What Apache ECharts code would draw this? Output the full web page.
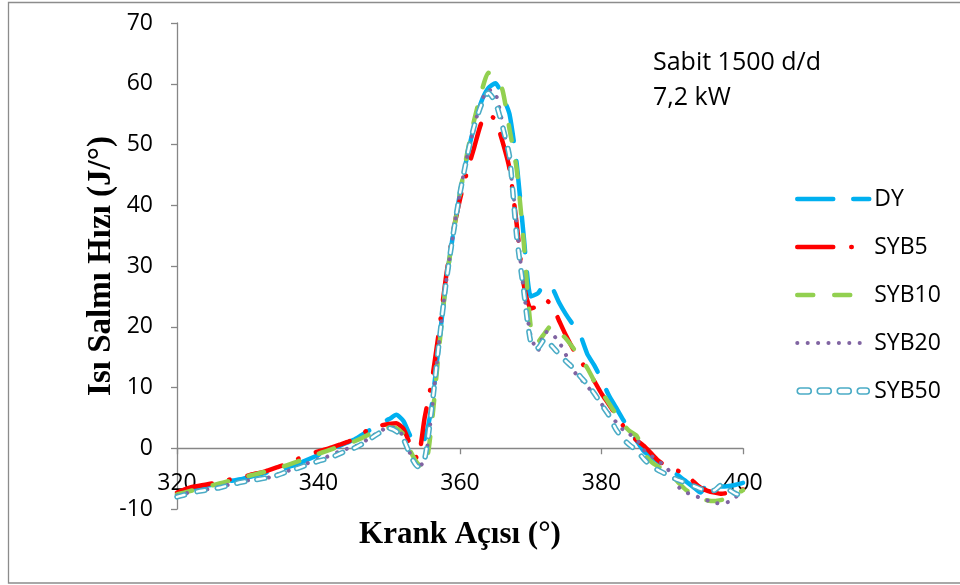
<!DOCTYPE html>
<html>
<head>
<meta charset="utf-8">
<script src="https://cdn.jsdelivr.net/npm/echarts@6/dist/echarts.min.js"></script>
<style>
html,body{margin:0;padding:0;background:#fff;}
#chart{width:960px;height:585px;}
</style>
</head>
<body>
<div id="chart"></div>
<script>
const crankAngle = [320,321,322,323,324,325,326,327,328,329,330,331,332,333,334,335,336,337,338,339,340,341,342,343,344,345,346,347,348,349,350,351,352,353,354,355,356,357,358,359,360,361,362,363,364,365,366,367,368,369,370,371,372,373,374,375,376,377,378,379,380,381,382,383,384,385,386,387,388,389,390,391,392,393,394,395,396,397,398,399,400];

const dy = [-7.5,-7.2,-6.8,-6.5,-6.2,-6.0,-5.8,-5.5,-5.3,-5.1,-4.8,-4.5,-4.2,-3.9,-3.7,-3.4,-3.0,-2.6,-2.1,-1.6,-1.1,-0.6,-0.1,0.4,0.9,1.4,2.1,2.8,3.6,4.3,4.8,5.5,4.5,2.0,0.8,1.5,7.0,17,27,35,42,48,53,57,59.3,60.1,58,55,47,35,25,25.5,27,26.4,24,22,20.3,18.6,15.5,13.6,11.3,8.8,6.8,4.8,3.0,1.2,-0.5,-1.4,-2.2,-3.0,-3.8,-4.6,-5.5,-6.4,-7.3,-5.8,-6.0,-6.3,-6.2,-6.0,-5.7];

const syb5 = [-7.3,-6.8,-6.4,-6.2,-6.0,-5.8,-5.6,-5.3,-5.0,-4.8,-4.5,-4.2,-4.0,-3.6,-3.2,-2.8,-2.3,-1.8,-1.3,-0.9,-0.5,-0.2,0.2,0.6,1.0,1.5,2.3,3.0,3.5,3.8,4.0,4.1,3.2,0.5,-1.8,5.0,11,19,28,35.5,41,45.5,49.5,53.5,55,54,50.5,46,37,27,23,23.4,24.5,23.5,21,18.5,16.3,14.5,12.7,11,9,7.3,5.5,3.8,2.2,1.3,0.4,-0.8,-2.0,-2.8,-3.3,-3.8,-4.2,-5.5,-6.5,-7.0,-7.3,-7.5,-7.3,-7.0,-6.8];

const syb10 = [-7.6,-7.3,-7.0,-6.7,-6.4,-6.1,-5.8,-5.5,-5.2,-4.9,-4.6,-4.3,-4.0,-3.7,-3.4,-3.0,-2.6,-2.2,-1.8,-1.3,-0.9,-0.5,-0.1,0.3,0.7,1.1,1.6,2.2,2.8,3.2,3.4,3.3,2.3,-0.5,-2.5,-3.2,4,16,27,35,42,48.5,54,58.5,61.8,61,59,52.5,46,34,20,17.5,19,20.3,19.2,18,16.5,14.8,13.2,11,9.3,7.5,5.7,4.0,2.8,2.0,-0.8,-2.2,-3.0,-3.6,-4.5,-5.8,-6.9,-7.6,-8.2,-8.6,-8.7,-8.5,-8.2,-7.6,-6.9];

const syb20 = [-7.8,-7.5,-7.2,-7.0,-6.8,-6.6,-6.4,-6.1,-5.8,-5.5,-5.3,-5.1,-5.0,-4.8,-4.4,-4.0,-3.6,-3.2,-2.7,-2.2,-1.8,-1.5,-1.0,-0.5,-0.1,0.2,0.8,1.5,2.3,3.0,3.5,3.2,2.0,-1.0,-3.0,-2.2,6,17,27,35,42,48,53,57,59,58.5,53.5,47,37,26,18.5,16,19.2,18.8,17.5,15.3,12.8,11.5,10.2,8.8,7.3,5.8,4.4,3.1,2.3,1.4,-0.3,-1.2,-2.1,-2.9,-4.5,-6.5,-7.3,-7.7,-8.2,-8.6,-9.0,-9.1,-8.8,-8.0,-7.3];

const syb50 = [-8.0,-7.7,-7.4,-7.1,-6.9,-6.7,-6.5,-6.2,-5.9,-5.6,-5.4,-5.2,-5.0,-4.8,-4.5,-4.1,-3.7,-3.3,-2.9,-2.5,-2.1,-1.8,-1.4,-0.9,-0.4,0.0,0.6,1.3,2.1,2.8,3.3,2.8,1.5,-1.2,-3.0,-1.8,6.5,17,27,35,42,48,53,56.5,58.5,57,53,48,35,26,17.5,16.5,18,16.8,15.5,14.3,13.2,11.8,10.5,9,7.2,5.5,3.2,1.6,0.5,-0.4,-1.8,-2.9,-3.6,-4.2,-4.8,-5.3,-5.7,-6.2,-6.7,-7.0,-6.9,-6.0,-6.8,-7.5,-7.8];

const seriesNames = ['DY','SYB5','SYB10','SYB20','SYB50'];
const xTicks = [320,340,360,380,400];
const yTicks = [-10,0,10,20,30,40,50,60,70];

function pairs(vals){ return crankAngle.map((x,i)=>[x, vals[i]]); }

const lblFont = '"Open Sans", "Noto Sans", sans-serif';
const titleFont = '"Liberation Serif", "DejaVu Serif", serif';
const axisGray = '#868686';

const chart = echarts.init(document.getElementById('chart'), null, {renderer:'canvas'});

const pillPath = 'path://M3,0 H11 A3,3 0 0 1 11,6 H3 A3,3 0 0 1 3,0 Z M23,0 H31 A3,3 0 0 1 31,6 H23 A3,3 0 0 1 23,0 Z M43,0 H51 A3,3 0 0 1 51,6 H43 A3,3 0 0 1 43,0 Z M63,0 H69 A3,3 0 0 1 69,6 H63 A3,3 0 0 1 63,0 Z';

const option = {
  animation: false,
  backgroundColor: '#ffffff',
  grid: { left: 177, right: 217, top: 23, bottom: 76, containLabel: false, outerBoundsMode: 'none' },
  xAxis: {
    type: 'value',
    min: xTicks[0], max: xTicks[xTicks.length-1], interval: 20,
    name: 'Krank Açısı (°)',
    nameLocation: 'middle',
    nameGap: 10,
    nameMoveOverlap: false,
    nameTextStyle: { fontFamily: titleFont, fontWeight: 'bold', fontSize: 31, color: '#000' },
    axisLine: { onZero: true, lineStyle: { color: axisGray, width: 1.3 } },
    axisTick: { show: true, length: 6, lineStyle: { color: axisGray, width: 1.3 } },
    axisLabel: { fontFamily: lblFont, fontSize: 23, color: '#000', margin: -37 },
    splitLine: { show: false }
  },
  yAxis: {
    type: 'value',
    min: yTicks[0], max: yTicks[yTicks.length-1], interval: 10,
    name: 'Isı Salmı Hızı (J/°)',
    nameLocation: 'middle',
    nameGap: 59,
    nameMoveOverlap: false,
    nameRotate: 90,
    nameTextStyle: { fontFamily: titleFont, fontWeight: 'bold', fontSize: 33, color: '#000' },
    axisLine: { show: true, onZero: false, lineStyle: { color: axisGray, width: 1.3 } },
    axisTick: { show: true, length: 6, lineStyle: { color: axisGray, width: 1.3 } },
    axisLabel: { fontFamily: lblFont, fontSize: 23, color: '#000', margin: 24 },
    splitLine: { show: false }
  },
  legend: {
    orient: 'vertical',
    left: 790,
    top: 182,
    itemWidth: 72,
    itemHeight: 6,
    itemGap: 24,
    itemStyle: { opacity: 0 },
    textStyle: { fontFamily: lblFont, fontSize: 23, color: '#000', lineHeight: 24 },
    data: [
      { name: 'DY', lineStyle: { width: 4.5 } },
      { name: 'SYB5', lineStyle: { width: 4.5 } },
      { name: 'SYB10', lineStyle: { width: 4.5 } },
      { name: 'SYB20', lineStyle: { width: 4 } },
      { name: 'SYB50', icon: pillPath, itemStyle: { opacity: 1, color: '#ffffff', borderColor: '#4BACC6', borderWidth: 1.6 } }
    ]
  },
  graphic: [
    { type: 'rect', silent: true, shape: { x: 8.5, y: 2.5, width: 1000, height: 580.5 },
      style: { fill: 'none', stroke: '#8c8c8c', lineWidth: 1.3 } },
    { type: 'text', left: 653, top: 45, silent: true,
      style: { text: 'Sabit 1500 d/d\n7,2 kW', font: '25px "Open Sans", sans-serif', fill: '#000', lineHeight: 35 } }
  ],
  series: [
    { name: 'DY', type: 'line', data: pairs(dy), showSymbol: false, symbol: 'none', smooth: 0.2, z: 2,
      lineStyle: { color: '#00B0F0', width: 4.5, type: [36, 20], cap: 'round', join: 'round' }, itemStyle: { color: '#00B0F0' } },
    { name: 'SYB5', type: 'line', data: pairs(syb5), showSymbol: false, symbol: 'none', smooth: 0.2, z: 3,
      lineStyle: { color: '#FF0000', width: 4.5, type: [36, 18, 0.5, 18], cap: 'round', join: 'round' }, itemStyle: { color: '#FF0000' } },
    { name: 'SYB10', type: 'line', data: pairs(syb10), showSymbol: false, symbol: 'none', smooth: 0.2, z: 4,
      lineStyle: { color: '#92D050', width: 4.5, type: [16, 21], cap: 'round', join: 'round' }, itemStyle: { color: '#92D050' } },
    { name: 'SYB20', type: 'line', data: pairs(syb20), showSymbol: false, symbol: 'none', smooth: 0.2, z: 5,
      lineStyle: { color: '#8064A2', width: 4, type: [0.1, 10.3], cap: 'round', join: 'round' }, itemStyle: { color: '#8064A2' } },
    { name: 'SYB50', type: 'line', data: pairs(syb50), showSymbol: false, symbol: 'none', smooth: 0.2, z: 6,
      lineStyle: { color: '#4BACC6', width: 5.5, type: [8, 12.5], cap: 'round', join: 'round' }, itemStyle: { color: '#4BACC6' } },
    { name: 'SYB50-inner', type: 'line', data: pairs(syb50), showSymbol: false, symbol: 'none', smooth: 0.2, z: 7,
      lineStyle: { color: '#ffffff', width: 2.4, type: [8, 12.5], cap: 'round', join: 'round' }, itemStyle: { color: '#ffffff' } }
  ]
};
chart.setOption(option);
</script>
</body>
</html>
